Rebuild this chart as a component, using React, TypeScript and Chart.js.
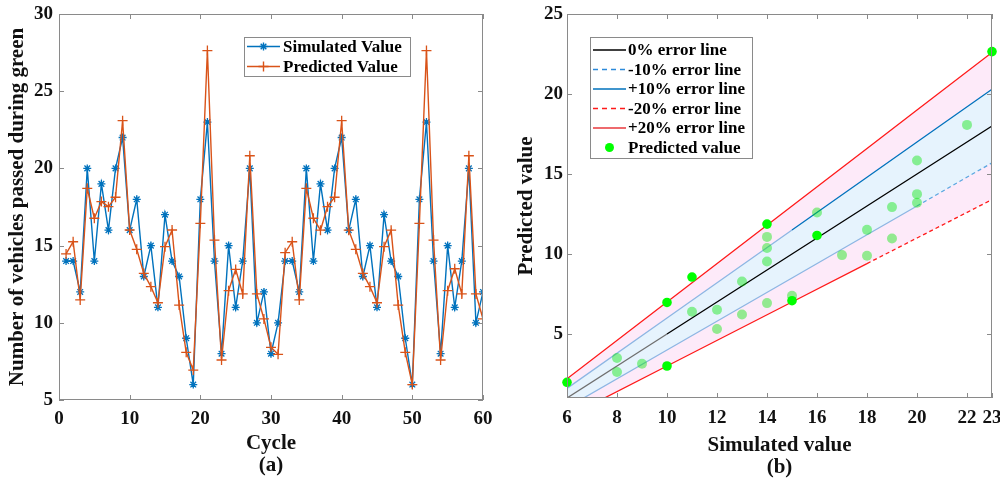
import React, { useEffect, useRef } from "react";
import { Chart, registerables } from "chart.js";

Chart.register(...registerables);

const FONT = "'Liberation Serif', 'Times New Roman', serif";

// ---------- (a) data ----------
const cycles = [
  1, 2, 3, 4, 5, 6, 7, 8, 9, 10, 11, 12, 13, 14, 15, 16, 17, 18, 19, 20,
  21, 22, 23, 24, 25, 26, 27, 28, 29, 30, 31, 32, 33, 34, 35, 36, 37, 38, 39, 40,
  41, 42, 43, 44, 45, 46, 47, 48, 49, 50, 51, 52, 53, 54, 55, 56, 57, 58, 59, 60,
];
const simulatedValues = [
  14, 14, 12, 20, 14, 19, 16, 20, 22, 16, 18, 13, 15, 11, 17, 14, 13, 9, 6, 18,
  23, 14, 8, 15, 11, 14, 20, 10, 12, 8, 10, 14, 14, 12, 20, 14, 19, 16, 20, 22,
  16, 18, 13, 15, 11, 17, 14, 13, 9, 6, 18, 23, 14, 8, 15, 11, 14, 20, 10, 12,
];
const predictedValues = [
  14.46, 15.25, 11.48, 18.71, 16.77, 17.85, 17.52, 18.13, 23.09, 16.01,
  14.76, 13.2, 12.34, 11.3, 14.93, 16.01, 11.15, 8.09, 6.94, 16.44,
  27.63, 15.36, 7.59, 12.08, 13.46, 11.87, 20.82, 11.87, 10.25, 8.41,
  7.96, 14.54, 15.25, 11.48, 18.71, 16.77, 16.0, 17.52, 18.13, 23.09,
  16.0, 14.76, 13.2, 12.34, 11.3, 14.93, 16.0, 11.15, 8.09, 6.0,
  16.44, 27.63, 15.36, 7.59, 12.08, 13.5, 11.87, 20.82, 11.87, 10.25,
];
const cycleTicks = [0, 10, 20, 30, 40, 50, 60];
const countTicks = [5, 10, 15, 20, 25, 30];

// ---------- (b) data ----------
const errorLineX = [6, 10, 15, 18, 20, 23];
const zeroErrorY = [1, 5, 10, 13, 15, 18];
const minus10Y = [0.4, 4, 8.5, 11.2, 13, 15.7];
const plus10Y = [1.6, 6, 11.5, 14.8, 17, 20.3];
const minus20Y = [-0.2, 3, 7, 9.4, 11, 13.4];
const plus20Y = [2.2, 7, 13, 16.6, 19, 22.6];

const brightSim = [6, 10, 10, 11, 14, 15, 16, 23];
const brightPred = [1.98, 6.97, 3.0, 8.56, 11.87, 7.08, 11.16, 22.65];
const paleSim = [8, 8, 9, 11, 12, 12, 13, 13, 14, 14, 14, 14, 15, 16, 17, 18, 18, 19, 19, 20, 20, 20, 22];
const palePred = [3.5, 2.62, 3.14, 6.39, 6.52, 5.31, 8.28, 6.22, 11.07, 10.37, 9.53, 6.93, 7.39, 12.59, 9.93, 11.51, 9.89, 12.93, 10.97, 15.84, 13.74, 13.2, 18.07];
const simTicks = [6, 8, 10, 12, 14, 16, 18, 20, 22, 23];
const predTicks = [5, 10, 15, 20, 25];

const BLUE = "#0072BD";
const ORANGE = "#D95319";
const RED = "#FF1A1A";
const LIGHT_LINE = "#8DB6E3";
const DASH_BLUE = "#5AA7E0";
const PINK_FILL = "#FDEAF9";
const BLUE_FILL = "#E6F3FD";
const FRAME = "#8A8A8A";

function framePlugin(id: string) {
  return {
    id,
    afterDatasetsDraw(chart: any) {
      const { ctx, chartArea, scales } = chart;
      const { left, right, top, bottom } = chartArea;
      ctx.save();
      ctx.strokeStyle = FRAME;
      ctx.lineWidth = 1;
      ctx.setLineDash([]);
      ctx.beginPath();
      for (const t of scales.x.ticks) {
        const px = Math.round(scales.x.getPixelForValue(t.value)) + 0.5;
        ctx.moveTo(px, bottom);
        ctx.lineTo(px, bottom - 5);
        ctx.moveTo(px, top);
        ctx.lineTo(px, top + 5);
      }
      for (const t of scales.y.ticks) {
        const py = Math.round(scales.y.getPixelForValue(t.value)) + 0.5;
        ctx.moveTo(left, py);
        ctx.lineTo(left + 5, py);
        ctx.moveTo(right, py);
        ctx.lineTo(right - 5, py);
      }
      ctx.stroke();
      ctx.strokeRect(Math.round(left) + 0.5, Math.round(top) + 0.5, Math.round(right - left) - 1, Math.round(bottom - top) - 1);
      ctx.restore();
    },
  };
}

function drawStar(ctx: CanvasRenderingContext2D, x: number, y: number, r: number) {
  const d = r * Math.SQRT1_2;
  ctx.beginPath();
  ctx.moveTo(x - r, y); ctx.lineTo(x + r, y);
  ctx.moveTo(x, y - r); ctx.lineTo(x, y + r);
  ctx.moveTo(x - d, y - d); ctx.lineTo(x + d, y + d);
  ctx.moveTo(x - d, y + d); ctx.lineTo(x + d, y - d);
  ctx.stroke();
}
function drawPlus(ctx: CanvasRenderingContext2D, x: number, y: number, r: number) {
  ctx.beginPath();
  ctx.moveTo(x - r, y); ctx.lineTo(x + r, y);
  ctx.moveTo(x, y - r); ctx.lineTo(x, y + r);
  ctx.stroke();
}

const legendA = {
  id: "legendA",
  afterDraw(chart: any) {
    const ctx: CanvasRenderingContext2D = chart.ctx;
    ctx.save();
    const bx = 244, by = 37, bw = 166, bh = 39;
    ctx.fillStyle = "#fff";
    ctx.fillRect(bx, by, bw, bh);
    ctx.strokeStyle = FRAME;
    ctx.lineWidth = 1;
    ctx.strokeRect(bx + 0.5, by + 0.5, bw, bh);
    const rows = [
      { text: "Simulated Value", color: BLUE, marker: "star", y: 46.5 },
      { text: "Predicted Value", color: ORANGE, marker: "plus", y: 66.5 },
    ];
    ctx.font = `bold 17px ${FONT}`;
    ctx.textBaseline = "middle";
    ctx.textAlign = "left";
    for (const r of rows) {
      ctx.strokeStyle = r.color;
      ctx.lineWidth = 1.4;
      ctx.beginPath();
      ctx.moveTo(247, r.y);
      ctx.lineTo(280, r.y);
      ctx.stroke();
      if (r.marker === "star") drawStar(ctx, 263.5, r.y, 4);
      else drawPlus(ctx, 263.5, r.y, 5);
      ctx.fillStyle = "#000";
      ctx.fillText(r.text, 283, r.y + 1);
    }
    ctx.restore();
  },
};

const legendB = {
  id: "legendB",
  afterDraw(chart: any) {
    const ctx: CanvasRenderingContext2D = chart.ctx;
    ctx.save();
    const bx = 90, by = 37, bw = 162, bh = 121;
    ctx.fillStyle = "#fff";
    ctx.fillRect(bx, by, bw, bh);
    ctx.strokeStyle = FRAME;
    ctx.lineWidth = 1;
    ctx.strokeRect(bx + 0.5, by + 0.5, bw, bh);
    const rows = [
      { text: "0% error line", color: "#000", dash: [] as number[] },
      { text: "-10% error line", color: "#2C8ADA", dash: [5, 4] },
      { text: "+10% error line", color: BLUE, dash: [] },
      { text: "-20% error line", color: RED, dash: [5, 4] },
      { text: "+20% error line", color: "#E8383D", dash: [] },
      { text: "Predicted value", color: "#00FF00", dash: null as any },
    ];
    ctx.font = `bold 17px ${FONT}`;
    ctx.textBaseline = "middle";
    ctx.textAlign = "left";
    rows.forEach((r, i) => {
      const y = 50 + i * 19.5;
      if (r.dash) {
        ctx.strokeStyle = r.color;
        ctx.lineWidth = 1.3;
        ctx.setLineDash(r.dash);
        ctx.beginPath();
        ctx.moveTo(93, y);
        ctx.lineTo(126, y);
        ctx.stroke();
        ctx.setLineDash([]);
      } else {
        ctx.fillStyle = r.color;
        ctx.beginPath();
        ctx.arc(109.5, y, 4.5, 0, Math.PI * 2);
        ctx.fill();
      }
      ctx.fillStyle = "#000";
      ctx.fillText(r.text, 128, y + 1);
    });
    ctx.restore();
  },
};

const tickFont = { family: FONT, size: 19, weight: "bold" as const };
const titleFont = { family: FONT, size: 21, weight: "bold" as const, lineHeight: 1.05 };
const yTitleFont = { family: FONT, size: 21, weight: "bold" as const, lineHeight: 1.12 };

function ChartA() {
  const ref = useRef<HTMLCanvasElement>(null);
  useEffect(() => {
    if (!ref.current) return;
    const chart = new Chart(ref.current, {
      type: "line",
      data: {
        datasets: [
          {
            label: "Predicted Value",
            data: cycles.map((c, i) => ({ x: c, y: predictedValues[i] })),
            borderColor: ORANGE,
            backgroundColor: ORANGE,
            borderWidth: 1.4,
            pointStyle: "cross",
            pointRadius: 5,
            pointBorderWidth: 1.3,
            pointBorderColor: ORANGE,
            order: 0,
          },
          {
            label: "Simulated Value",
            data: cycles.map((c, i) => ({ x: c, y: simulatedValues[i] })),
            borderColor: BLUE,
            backgroundColor: BLUE,
            borderWidth: 1.4,
            pointStyle: "star",
            pointRadius: 4,
            pointBorderWidth: 1.3,
            pointBorderColor: BLUE,
            order: 1,
          },
        ],
      },
      options: {
        responsive: false,
        animation: false,
        devicePixelRatio: 1,
        events: [],
        layout: { padding: { top: 14, right: 17, left: 0, bottom: 0 } },
        plugins: { legend: { display: false }, tooltip: { enabled: false } },
        scales: {
          x: {
            type: "linear",
            min: 0,
            max: 60,
            afterBuildTicks: (s: any) => { s.ticks = cycleTicks.map((v) => ({ value: v })); },
            afterFit: (s: any) => { s.height = 81; s.paddingLeft = 0; s.paddingRight = 0; },
            grid: { display: false, drawTicks: false },
            border: { display: false },
            ticks: { font: tickFont, color: "#111", padding: 8, maxRotation: 0 },
            title: { display: true, text: ["Cycle", "(a)"], font: titleFont, color: "#111", padding: { top: 0, bottom: 4 } },
          },
          y: {
            type: "linear",
            min: 5,
            max: 30,
            afterBuildTicks: (s: any) => { s.ticks = countTicks.map((v) => ({ value: v })); },
            afterFit: (s: any) => { s.width = 59; s.paddingTop = 0; s.paddingBottom = 0; },
            grid: { display: false, drawTicks: false },
            border: { display: false },
            ticks: { font: tickFont, color: "#111", padding: 6 },
            title: { display: true, text: "Number of vehicles passed during green", font: yTitleFont, color: "#111", padding: { top: 6, bottom: 0 } },
          },
        },
      },
      plugins: [framePlugin("frameA"), legendA],
    } as any);
    return () => chart.destroy();
  }, []);
  return <canvas ref={ref} width={500} height={481} style={{ display: "block" }} />;
}

function ChartB() {
  const ref = useRef<HTMLCanvasElement>(null);
  useEffect(() => {
    if (!ref.current) return;
    const pts = (ys: number[]) => errorLineX.map((x, i) => ({ x, y: ys[i] }));
    const lineBase = { showLine: true, pointRadius: 0, borderWidth: 1.3, fill: false };
    const chart = new Chart(ref.current, {
      type: "line",
      data: {
        datasets: [
          {
            label: "Predicted value",
            data: brightSim.map((x, i) => ({ x, y: brightPred[i] })),
            showLine: false,
            pointRadius: 4.8,
            pointBorderWidth: 0,
            pointBackgroundColor: "#00FF00",
            backgroundColor: "#00FF00",
            borderColor: "#00FF00",
            clip: false,
            order: 0,
          },
          {
            label: "pale",
            data: paleSim.map((x, i) => ({ x, y: palePred[i] })),
            showLine: false,
            pointRadius: 5,
            pointBorderWidth: 0,
            pointBackgroundColor: "rgba(0,230,0,0.42)",
            backgroundColor: "rgba(0,230,0,0.42)",
            borderColor: "rgba(0,0,0,0)",
            clip: false,
            order: 1,
          },
          {
            ...lineBase,
            label: "0% error line",
            data: pts(zeroErrorY),
            borderColor: "#000",
            segment: { borderColor: (c: any) => (c.p0.parsed.x < 10 ? "#6f6f6f" : "#000") },
            order: 2,
          },
          {
            ...lineBase,
            label: "-10% error line",
            data: pts(minus10Y),
            borderColor: LIGHT_LINE,
            segment: {
              borderColor: (c: any) => (c.p0.parsed.x < 20 ? LIGHT_LINE : DASH_BLUE),
              borderDash: (c: any) => (c.p0.parsed.x < 20 ? [] : [4, 3]),
            },
            order: 3,
          },
          {
            ...lineBase,
            label: "+10% error line",
            data: pts(plus10Y),
            borderColor: BLUE,
            backgroundColor: BLUE_FILL,
            fill: { target: 3, above: BLUE_FILL, below: BLUE_FILL },
            segment: { borderColor: (c: any) => (c.p0.parsed.x < 15 ? LIGHT_LINE : BLUE) },
            order: 4,
          },
          {
            ...lineBase,
            label: "-20% error line",
            data: pts(minus20Y),
            borderColor: RED,
            segment: { borderDash: (c: any) => (c.p0.parsed.x < 18 ? [] : [4, 3]) },
            order: 5,
          },
          {
            ...lineBase,
            label: "+20% error line",
            data: pts(plus20Y),
            borderColor: RED,
            backgroundColor: PINK_FILL,
            fill: { target: 5, above: PINK_FILL, below: PINK_FILL },
            order: 6,
          },
        ],
      },
      options: {
        responsive: false,
        animation: false,
        devicePixelRatio: 1,
        events: [],
        layout: { padding: { top: 14, right: 8, left: 0, bottom: 0 } },
        plugins: {
          legend: { display: false },
          tooltip: { enabled: false },
          filler: { drawTime: "beforeDatasetsDraw" },
        },
        scales: {
          x: {
            type: "linear",
            min: 6,
            max: 23,
            afterBuildTicks: (s: any) => { s.ticks = simTicks.map((v) => ({ value: v })); },
            afterFit: (s: any) => { s.height = 83; s.paddingLeft = 0; s.paddingRight = 0; },
            grid: { display: false, drawTicks: false },
            border: { display: false },
            ticks: { font: tickFont, color: "#111", padding: 9, maxRotation: 0, autoSkip: false },
            title: { display: true, text: ["Simulated value", "(b)"], font: titleFont, color: "#111", padding: { top: 0, bottom: 2 } },
          },
          y: {
            type: "linear",
            min: 1,
            max: 25,
            afterBuildTicks: (s: any) => { s.ticks = predTicks.map((v) => ({ value: v })); },
            afterFit: (s: any) => { s.width = 67; s.paddingTop = 0; s.paddingBottom = 0; },
            grid: { display: false, drawTicks: false },
            border: { display: false },
            ticks: { font: tickFont, color: "#111", padding: 4 },
            title: { display: true, text: "Predicted value", font: yTitleFont, color: "#111", padding: { top: 15, bottom: 0 } },
          },
        },
      },
      plugins: [framePlugin("frameB"), legendB],
    } as any);
    return () => chart.destroy();
  }, []);
  return <canvas ref={ref} width={500} height={481} style={{ display: "block" }} />;
}

export default function App() {
  return (
    <div style={{ position: "fixed", left: 0, top: 0, width: 1000, height: 481, display: "flex", background: "#fff" }}>
      <ChartA />
      <ChartB />
    </div>
  );
}
